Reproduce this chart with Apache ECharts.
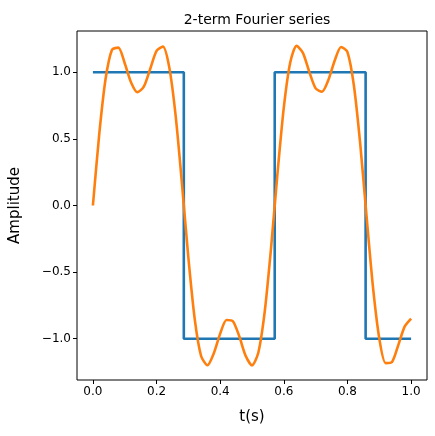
<!DOCTYPE html>
<html><head><meta charset="utf-8">
<script src="https://cdn.jsdelivr.net/npm/echarts@6/dist/echarts.min.js"></script>
<style>html,body{margin:0;padding:0;background:#fff}#c{width:435px;height:436px}</style>
</head><body><div id="c"></div>
<script>
const squareT = [0, 0.2857, 0.2857, 0.5714, 0.5714, 0.8571, 0.8571, 1.0];
const squareY = [1, 1, -1, -1, 1, 1, -1, -1];
const fourierT = [0,0.02,0.04,0.06,0.08,0.10,0.12,0.14,0.16,0.18,0.20,0.22,0.24,0.26,0.28,0.30,0.32,0.34,0.36,0.38,0.40,0.42,0.44,0.46,0.48,0.50,0.52,0.54,0.56,0.58,0.60,0.62,0.64,0.66,0.68,0.70,0.72,0.74,0.76,0.78,0.80,0.82,0.84,0.86,0.88,0.90,0.92,0.94,0.96,0.98,1.00];
const fourierY = [0,0.538,0.953,1.170,1.185,1.068,0.924,0.850,0.892,1.025,1.161,1.193,1.037,0.674,0.160,-0.392,-0.853,-1.130,-1.199,-1.109,-0.962,-0.860,-0.869,-0.982,-1.128,-1.200,-1.103,-0.797,-0.316,0.238,0.737,1.072,1.198,1.146,1.003,0.879,0.854,0.942,1.089,1.190,1.152,0.905,0.466,-0.080,-0.607,-0.997,-1.183,-1.175,-1.046,-0.907,-0.849];
const xTicks = [0, 0.2, 0.4, 0.6, 0.8, 1.0];
const yTicks = [-1, -0.5, 0, 0.5, 1];
const fmt = v => (v < 0 ? '\u2212' : '') + Math.abs(v).toFixed(1);
const chart = echarts.init(document.getElementById('c'), null, {renderer: 'canvas'});
const font = 'DejaVu Sans';
chart.setOption({
  animation: false,
  title: {text: '2-term Fourier series', left: 252, top: 8, textAlign: 'center',
    textStyle: {fontFamily: font, fontSize: 14, fontWeight: 'normal', color: '#000'}},
  grid: {left: 77, right: 8, top: 31, bottom: 56, show: true, borderColor: '#000', borderWidth: 1},
  xAxis: {type: 'value', min: -0.05, max: 1.05, splitLine: {show: false},
    name: 't(s)', nameLocation: 'middle', nameGap: 30,
    nameTextStyle: {fontFamily: font, fontSize: 15, color: '#000'},
    axisLine: {show: false, onZero: false},
    axisTick: {show: true, length: 4, inside: false, lineStyle: {color: '#000'}, customValues: xTicks},
    axisLabel: {fontFamily: font, fontSize: 12, color: '#000', margin: 6, customValues: xTicks, formatter: fmt}},
  yAxis: {type: 'value', min: -1.31, max: 1.31, splitLine: {show: false},
    name: 'Amplitude', nameLocation: 'middle', nameGap: 54, nameRotate: 90,
    nameTextStyle: {fontFamily: font, fontSize: 15, color: '#000'},
    axisLine: {show: false, onZero: false},
    axisTick: {show: true, length: 4, inside: false, lineStyle: {color: '#000'}, customValues: yTicks},
    axisLabel: {fontFamily: font, fontSize: 12, color: '#000', margin: 6, customValues: yTicks, formatter: fmt}},
  series: [
    {type: 'line', data: squareT.map((t, i) => [t, squareY[i]]), showSymbol: false,
      lineStyle: {color: '#1f77b4', width: 2.6}, z: 2},
    {type: 'line', data: fourierT.map((t, i) => [t, fourierY[i]]), showSymbol: false, smooth: 0.25,
      lineStyle: {color: '#ff7f0e', width: 2.6}, z: 3}
  ]
});
</script></body></html>
